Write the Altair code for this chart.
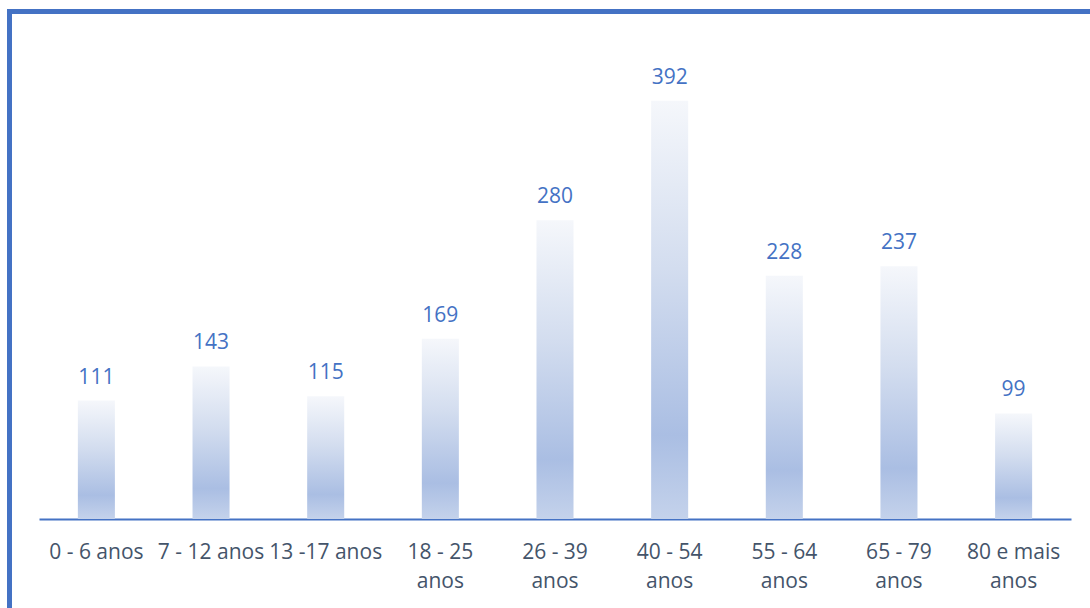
import altair as alt
import pandas as pd

categories = ["0 - 6 anos", "7 - 12 anos", "13 -17 anos", "18 - 25 anos", "26 - 39 anos",
              "40 - 54 anos", "55 - 64 anos", "65 - 79 anos", "80 e mais anos"]
values = [111, 143, 115, 169, 280, 392, 228, 237, 99]

df = pd.DataFrame({"cat": categories, "val": values})

BLUE = "#4472C4"
TXT = "#44546A"
FONT = "Open Sans"

xenc = alt.X("cat:N", sort=categories, title=None,
             scale=alt.Scale(paddingInner=0.677, paddingOuter=0.339),
             axis=alt.Axis(labelAngle=0, ticks=False, domainColor=BLUE, domainWidth=2,
                           labelColor=TXT, labelFont=FONT, labelFontSize=21,
                           labelPadding=22, labelLineHeight=29, labelBaseline="top",
                           labelLimit=200,
                           labelExpr="length(datum.label) > 11 ? [slice(datum.label, 0, lastindexof(datum.label, ' ')), slice(datum.label, lastindexof(datum.label, ' ') + 1)] : datum.label"))
yenc = alt.Y("val:Q", scale=alt.Scale(domain=[0, 450]), axis=None)

grad = alt.Gradient(gradient="linear",
                    stops=[alt.GradientStop(color="#f5f7fb", offset=0),
                           alt.GradientStop(color="#d3ddef", offset=0.4),
                           alt.GradientStop(color="#aabee3", offset=0.8),
                           alt.GradientStop(color="#c4d2eb", offset=1)],
                    x1=0, x2=0, y1=0, y2=1)

base = alt.Chart(df)
bars = base.mark_bar(color=grad).encode(x=xenc, y=yenc)
labels = base.mark_text(color=BLUE, font=FONT, fontSize=21, baseline="alphabetic", dy=-17).encode(
    x=alt.X("cat:N", sort=categories), y="val:Q", text="val:Q")

border_left = alt.Chart(df).mark_rule(color=BLUE, strokeWidth=5).encode(
    x=alt.value(-29.5), y=alt.value(-30), y2=alt.value(580))
border_top = alt.Chart(df).mark_rule(color=BLUE, strokeWidth=4).encode(
    x=alt.value(-32), x2=alt.value(1060), y=alt.value(-27.5))

chart = alt.layer(bars, labels, border_left, border_top).properties(
    width=1032, height=480,
    background="white",
    autosize=alt.AutoSizeParams(type="none"),
    padding={"left": 39, "top": 39, "right": 19, "bottom": 89},
).configure_view(strokeWidth=0)

chart.save("out.html", embed_options={"renderer": "svg", "actions": False})
